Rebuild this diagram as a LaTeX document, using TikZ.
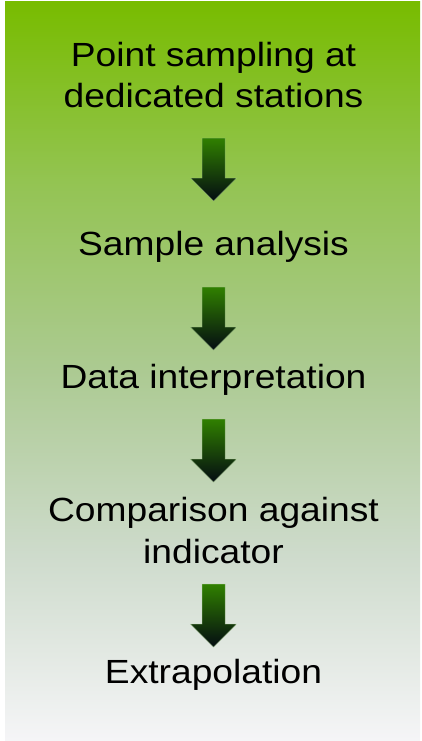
\documentclass[tikz,border=0pt]{standalone}
\usepackage{fontspec}
\setmainfont{Liberation Sans}[FakeStretch=1.11]
\usepackage{xcolor}
\usepackage{tikz}

\definecolor{paneltop}{RGB}{120,188,0}
\definecolor{panelq}{RGB}{148,196,84}
\definecolor{panelmid}{RGB}{172,202,146}
\definecolor{panelr}{RGB}{206,219,204}
\definecolor{panelbot}{RGB}{245,245,247}
\definecolor{arrowtop}{RGB}{48,128,0}
\definecolor{arrowbot}{RGB}{4,12,18}

% green to grey fade of the panel (middle 50bp spans the path)
\pgfdeclareverticalshading{panelfade}{100bp}{%
  color(0bp)=(panelbot); color(25bp)=(panelbot); color(37.5bp)=(panelr);
  color(50bp)=(panelmid); color(62.5bp)=(panelq);
  color(75bp)=(paneltop); color(100bp)=(paneltop)}

\tikzset{
  step text/.style={anchor=base, align=center, text=black,
    font=\fontsize{33.5}{41.3}\selectfont, inner sep=0pt},
  flowarrow/.style={top color=arrowtop, bottom color=arrowbot,
    draw=white!55!arrowtop, draw opacity=0.6, line width=0.5pt}
}

% block arrow pointing down, #1 = name, #2 = top of the shaft
\newcommand{\blockarrow}[2]{%
  \path[flowarrow] (202,#2) coordinate (#1) -- ++(23,0) -- ++(0,40)
    -- ++(11.5,0) -- ++(-23,23) -- ++(-23,-23) -- ++(11.5,0) -- cycle;
}

\begin{document}
\begin{tikzpicture}[x=1pt, y=-1pt]
    \useasboundingbox (0,0) rectangle (421,741);

    % background panel
    \path[shading=panelfade] (5,2) rectangle (420,740);

    % steps (base = baseline of the last line)
    \node[step text] (point) at (213.5,108) {Point sampling at\\dedicated stations};
    \node[step text] (sample) at (213.5,255) {Sample analysis};
    \node[step text] (data) at (213.5,388) {Data interpretation};
    \node[step text] (compare) at (213.5,563) {Comparison against\\indicator};
    \node[step text] (extra) at (213.5,683) {Extrapolation};

    % arrows between the steps
    \blockarrow{a1}{138}
    \blockarrow{a2}{287}
    \blockarrow{a3}{419}
    \blockarrow{a4}{584}
\end{tikzpicture}
\end{document}
